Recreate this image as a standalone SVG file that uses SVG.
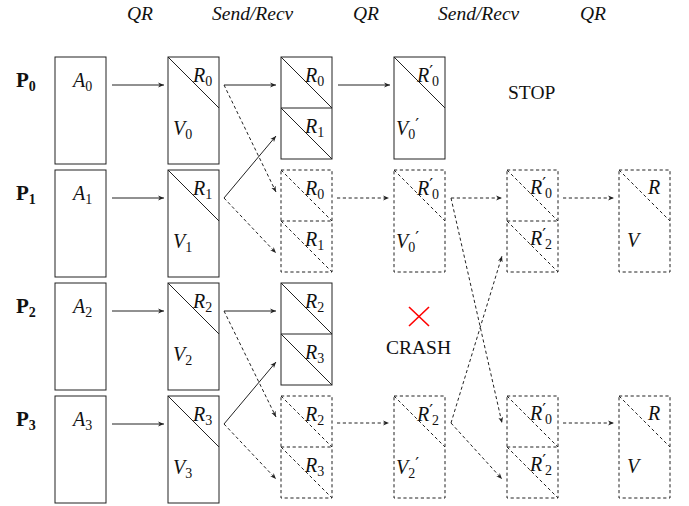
<svg xmlns="http://www.w3.org/2000/svg" width="689" height="506" viewBox="0 0 689 506">
<style>
.b{fill:none;stroke:#222;stroke-width:1}
.d{stroke-dasharray:3.2 2.6}
.m{font-family:"Liberation Serif","DejaVu Serif",serif;font-style:italic;font-size:20px;fill:#111}
.s{font-family:"Liberation Serif","DejaVu Serif",serif;font-style:normal;font-size:14px;fill:#111}
.pr{font-family:"DejaVu Serif",serif;font-style:normal;font-size:17px;fill:#111}
.t{font-family:"Liberation Serif","DejaVu Serif",serif;font-size:19.5px;fill:#111}
.ti{font-family:"Liberation Serif","DejaVu Serif",serif;font-style:italic;font-size:19.5px;fill:#111}
.p{font-family:"Liberation Serif","DejaVu Serif",serif;font-weight:bold;font-size:21px;fill:#111}
.ps{font-family:"Liberation Serif","DejaVu Serif",serif;font-weight:bold;font-size:14px;fill:#111}
.c{fill:none;stroke:#222;stroke-width:1}
</style>
<defs>
<marker id="ah" viewBox="0 0 10 10" refX="10" refY="5" markerWidth="6" markerHeight="6" orient="auto" markerUnits="userSpaceOnUse">
<path d="M0,1 L10,5 L0,9 L3,5 z" fill="#222"/>
</marker>
</defs>

<g id="headers">
<text class="ti" x="127" y="20">QR</text>
<text class="ti" x="212" y="20">Send/Recv</text>
<text class="ti" x="353" y="20">QR</text>
<text class="ti" x="438" y="20">Send/Recv</text>
<text class="ti" x="580" y="20">QR</text>
</g>

<g id="proc-labels">
<text class="p" x="16" y="87">P<tspan class="ps" dy="4">0</tspan></text>
<text class="p" x="16" y="200">P<tspan class="ps" dy="4">1</tspan></text>
<text class="p" x="16" y="313">P<tspan class="ps" dy="4">2</tspan></text>
<text class="p" x="16" y="426">P<tspan class="ps" dy="4">3</tspan></text>
</g>

<!-- Row 0 -->
<g id="a0"><rect class="b" x="55" y="57" width="51" height="107"/><text class="m" x="73" y="87">A<tspan class="s" dy="4">0</tspan></text></g>
<g id="v0"><rect class="b" x="168" y="57" width="51" height="107"/><line class="b" x1="168" y1="57" x2="219" y2="108"/><text class="m" x="193" y="82">R<tspan class="s" dy="4">0</tspan></text><text class="m" x="173" y="135">V<tspan class="s" dy="4">0</tspan></text></g>
<g id="r0-qr"><rect class="b" x="281" y="57" width="51" height="102"/><line class="b" x1="281" y1="108" x2="332" y2="108"/><line class="b" x1="281" y1="57" x2="332" y2="108"/><line class="b" x1="281" y1="108" x2="332" y2="159"/><text class="m" x="305" y="82">R<tspan class="s" dy="4">0</tspan></text><text class="m" x="305" y="133">R<tspan class="s" dy="4">1</tspan></text></g>
<g id="q0"><rect class="b" x="394" y="57" width="51" height="102"/><line class="b" x1="394" y1="57" x2="445" y2="108"/><text class="m" x="417" y="82">R<tspan class="pr" dy="-5">′</tspan><tspan class="s" dx="-1" dy="9">0</tspan></text><text class="m" x="396" y="135">V<tspan class="s" dy="4">0</tspan><tspan class="pr" dy="-9">′</tspan></text></g>
<g id="stop"><text class="t" x="508" y="99">STOP</text></g>

<!-- Row 1 -->
<g id="a1"><rect class="b" x="55" y="170" width="51" height="107"/><text class="m" x="73" y="200">A<tspan class="s" dy="4">1</tspan></text></g>
<g id="v1"><rect class="b" x="168" y="170" width="51" height="107"/><line class="b" x1="168" y1="170" x2="219" y2="221"/><text class="m" x="193" y="195">R<tspan class="s" dy="4">1</tspan></text><text class="m" x="173" y="248">V<tspan class="s" dy="4">1</tspan></text></g>
<g id="r1-recv"><rect class="b d" x="281" y="170" width="51" height="102"/><line class="b d" x1="281" y1="221" x2="332" y2="221"/><line class="b d" x1="281" y1="170" x2="332" y2="221"/><line class="b d" x1="281" y1="221" x2="332" y2="272"/><text class="m" x="305" y="195">R<tspan class="s" dy="4">0</tspan></text><text class="m" x="305" y="246">R<tspan class="s" dy="4">1</tspan></text></g>
<g id="q1"><rect class="b d" x="394" y="170" width="51" height="102"/><line class="b d" x1="394" y1="170" x2="445" y2="221"/><text class="m" x="417" y="195">R<tspan class="pr" dy="-5">′</tspan><tspan class="s" dx="-1" dy="9">0</tspan></text><text class="m" x="396" y="248">V<tspan class="s" dy="4">0</tspan><tspan class="pr" dy="-9">′</tspan></text></g>
<g id="r1-recv2"><rect class="b d" x="507" y="170" width="51" height="102"/><line class="b d" x1="507" y1="221" x2="558" y2="221"/><line class="b d" x1="507" y1="170" x2="558" y2="221"/><line class="b d" x1="507" y1="221" x2="558" y2="272"/><text class="m" x="530" y="194">R<tspan class="pr" dy="-5">′</tspan><tspan class="s" dx="-1" dy="9">0</tspan></text><text class="m" x="530" y="245">R<tspan class="pr" dy="-5">′</tspan><tspan class="s" dx="-1" dy="9">2</tspan></text></g>
<g id="f1"><rect class="b d" x="619" y="170" width="51" height="102"/><line class="b d" x1="619" y1="170" x2="670" y2="221"/><text class="m" x="648" y="194">R</text><text class="m" x="627" y="247">V</text></g>

<!-- Row 2 -->
<g id="a2"><rect class="b" x="55" y="283" width="51" height="107"/><text class="m" x="73" y="313">A<tspan class="s" dy="4">2</tspan></text></g>
<g id="v2"><rect class="b" x="168" y="283" width="51" height="107"/><line class="b" x1="168" y1="283" x2="219" y2="334"/><text class="m" x="193" y="308">R<tspan class="s" dy="4">2</tspan></text><text class="m" x="173" y="361">V<tspan class="s" dy="4">2</tspan></text></g>
<g id="r2-qr"><rect class="b" x="281" y="283" width="51" height="102"/><line class="b" x1="281" y1="334" x2="332" y2="334"/><line class="b" x1="281" y1="283" x2="332" y2="334"/><line class="b" x1="281" y1="334" x2="332" y2="385"/><text class="m" x="305" y="308">R<tspan class="s" dy="4">2</tspan></text><text class="m" x="305" y="359">R<tspan class="s" dy="4">3</tspan></text></g>
<g id="crash"><line x1="409" y1="307" x2="429" y2="326" stroke="#f00" stroke-width="1.6"/><line x1="429" y1="307" x2="409" y2="326" stroke="#f00" stroke-width="1.6"/><text class="t" x="386" y="354">CRASH</text></g>

<!-- Row 3 -->
<g id="a3"><rect class="b" x="55" y="396" width="51" height="107"/><text class="m" x="73" y="426">A<tspan class="s" dy="4">3</tspan></text></g>
<g id="v3"><rect class="b" x="168" y="396" width="51" height="107"/><line class="b" x1="168" y1="396" x2="219" y2="447"/><text class="m" x="193" y="421">R<tspan class="s" dy="4">3</tspan></text><text class="m" x="173" y="474">V<tspan class="s" dy="4">3</tspan></text></g>
<g id="r3-recv"><rect class="b d" x="281" y="396" width="51" height="102"/><line class="b d" x1="281" y1="447" x2="332" y2="447"/><line class="b d" x1="281" y1="396" x2="332" y2="447"/><line class="b d" x1="281" y1="447" x2="332" y2="498"/><text class="m" x="305" y="421">R<tspan class="s" dy="4">2</tspan></text><text class="m" x="305" y="472">R<tspan class="s" dy="4">3</tspan></text></g>
<g id="q3"><rect class="b d" x="394" y="396" width="51" height="102"/><line class="b d" x1="394" y1="396" x2="445" y2="447"/><text class="m" x="417" y="421">R<tspan class="pr" dy="-5">′</tspan><tspan class="s" dx="-1" dy="9">2</tspan></text><text class="m" x="396" y="474">V<tspan class="s" dy="4">2</tspan><tspan class="pr" dy="-9">′</tspan></text></g>
<g id="r3-recv2"><rect class="b d" x="507" y="396" width="51" height="102"/><line class="b d" x1="507" y1="447" x2="558" y2="447"/><line class="b d" x1="507" y1="396" x2="558" y2="447"/><line class="b d" x1="507" y1="447" x2="558" y2="498"/><text class="m" x="530" y="420">R<tspan class="pr" dy="-5">′</tspan><tspan class="s" dx="-1" dy="9">0</tspan></text><text class="m" x="530" y="471">R<tspan class="pr" dy="-5">′</tspan><tspan class="s" dx="-1" dy="9">2</tspan></text></g>
<g id="f3"><rect class="b d" x="619" y="396" width="51" height="102"/><line class="b d" x1="619" y1="396" x2="670" y2="447"/><text class="m" x="648" y="420">R</text><text class="m" x="627" y="473">V</text></g>

<g id="connectors">
<line class="c" x1="112" y1="85" x2="164" y2="85" marker-end="url(#ah)"/>
<line class="c" x1="112" y1="198" x2="164" y2="198" marker-end="url(#ah)"/>
<line class="c" x1="112" y1="311" x2="164" y2="311" marker-end="url(#ah)"/>
<line class="c" x1="112" y1="424" x2="164" y2="424" marker-end="url(#ah)"/>

<line class="c" x1="224" y1="85" x2="276" y2="85" marker-end="url(#ah)"/>
<line class="c d" x1="224" y1="85" x2="276" y2="192" marker-end="url(#ah)"/>
<line class="c" x1="224" y1="198" x2="276" y2="136" marker-end="url(#ah)"/>
<line class="c d" x1="224" y1="198" x2="276" y2="253" marker-end="url(#ah)"/>
<line class="c" x1="224" y1="311" x2="276" y2="311" marker-end="url(#ah)"/>
<line class="c d" x1="224" y1="311" x2="276" y2="417" marker-end="url(#ah)"/>
<line class="c" x1="224" y1="424" x2="276" y2="362" marker-end="url(#ah)"/>
<line class="c d" x1="224" y1="424" x2="276" y2="479" marker-end="url(#ah)"/>

<line class="c" x1="338" y1="85" x2="390" y2="85" marker-end="url(#ah)"/>
<line class="c d" x1="337" y1="198" x2="389" y2="198" marker-end="url(#ah)"/>
<line class="c d" x1="337" y1="423" x2="389" y2="423" marker-end="url(#ah)"/>

<line class="c d" x1="451" y1="198" x2="502" y2="198" marker-end="url(#ah)"/>
<line class="c d" x1="451" y1="198" x2="502" y2="423" marker-end="url(#ah)"/>
<line class="c d" x1="451" y1="423" x2="502" y2="479" marker-end="url(#ah)"/>
<line class="c d" x1="451" y1="423" x2="502" y2="256" marker-end="url(#ah)"/>

<line class="c d" x1="563" y1="198" x2="614" y2="198" marker-end="url(#ah)"/>
<line class="c d" x1="563" y1="423" x2="614" y2="423" marker-end="url(#ah)"/>
</g>
</svg>
